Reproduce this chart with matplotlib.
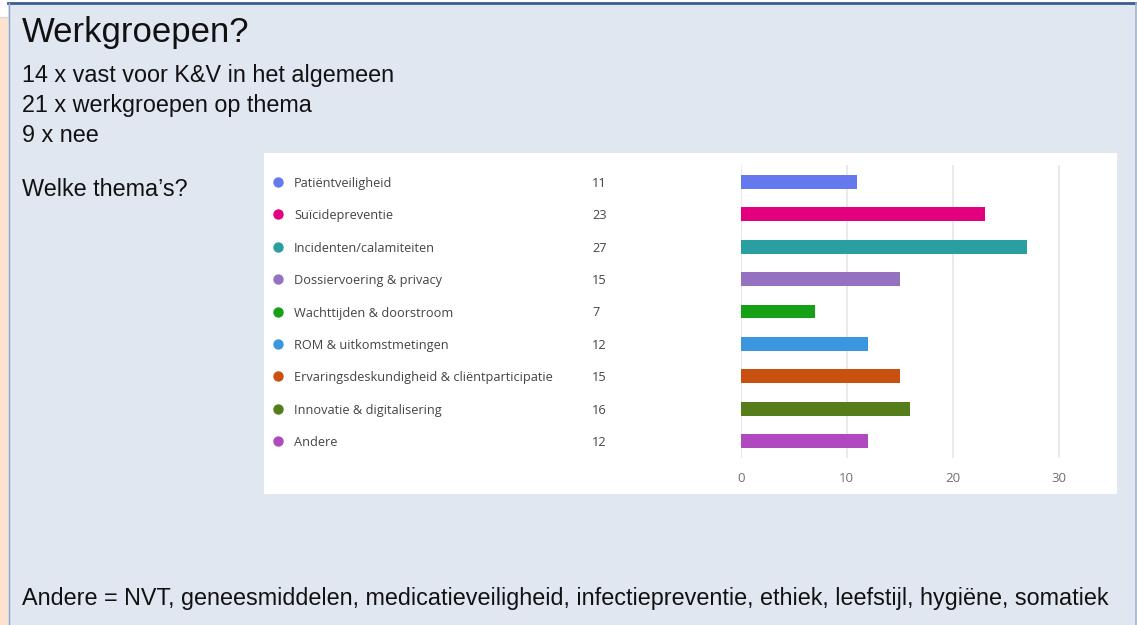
import matplotlib
matplotlib.use("Agg")
import matplotlib.pyplot as plt
from matplotlib.patches import Rectangle
from matplotlib.transforms import blended_transform_factory

W, H = 1137, 625

# data
themes = ["Patiëntveiligheid", "Suïcidepreventie", "Incidenten/calamiteiten",
          "Dossiervoering & privacy", "Wachttijden & doorstroom",
          "ROM & uitkomstmetingen", "Ervaringsdeskundigheid & cliëntparticipatie",
          "Innovatie & digitalisering", "Andere"]
counts = [11, 23, 27, 15, 7, 12, 15, 16, 12]
colors = ["#6479ee", "#e2007e", "#2a9fa0", "#9472c0", "#15a015",
          "#3b96de", "#c9500f", "#557d1a", "#b048c0"]
x_ticks = [0, 10, 20, 30]

title = "Werkgroepen?"
intro_lines = ["14 x vast voor K&V in het algemeen",
               "21 x werkgroepen op thema",
               "9 x nee"]
question = "Welke thema’s?"
footer = ("Andere = NVT, geneesmiddelen, medicatieveiligheid, infectiepreventie, "
          "ethiek, leefstijl, hygiëne, somatiek")


def fx(px):
    return px / W


def fy(py):
    return 1 - py / H


fig = plt.figure(figsize=(W / 100, H / 100), dpi=100)
fig.patch.set_facecolor("white")


def bg_rect(x, y, w, h, color):
    r = Rectangle((fx(x), fy(y + h)), w / W, h / H, transform=fig.transFigure,
                  facecolor=color, edgecolor="none", zorder=-5)
    fig.patches.append(r)


# slide background and borders
bg_rect(0, 17, 8, H - 17, "#fce3cf")
bg_rect(8, 3, 1128, H - 3, "#e1e7f1")
bg_rect(264, 153, 1117 - 264, 494 - 153, "white")
fig.lines.append(plt.Line2D([0, fx(8)], [fy(17), fy(17)], transform=fig.transFigure,
                            color="#d9d9d9", lw=1, zorder=-4))
fig.lines.append(plt.Line2D([fx(8), fx(1136)], [fy(2.5), fy(2.5)], transform=fig.transFigure,
                            color="#3c5a96", lw=2, zorder=-4))
fig.lines.append(plt.Line2D([fx(8.5), fx(8.5)], [0, fy(3)], transform=fig.transFigure,
                            color="#8ea4c8", lw=1, zorder=-4))
fig.lines.append(plt.Line2D([fx(1135.5), fx(1135.5)], [0, fy(3)], transform=fig.transFigure,
                            color="#9fb4cc", lw=1.2, zorder=-4))

# slide text
font = "Liberation Sans"
fig.text(fx(22), fy(42), title, fontsize=25, family=font, color="#111111", va="baseline")
for i, line in enumerate(intro_lines):
    fig.text(fx(22), fy(82 + 30 * i), line, fontsize=16.8, family=font, color="#111111",
             va="baseline")
fig.text(fx(22), fy(196), question, fontsize=16.8, family=font, color="#111111", va="baseline")
fig.text(fx(22), fy(605), footer, fontsize=16.8, family=font, color="#111111", va="baseline")

# bar chart
x0, px_per = 740.7, 10.6
ax = fig.add_axes([fx(x0), fy(458), 33 * px_per / W, (458 - 165) / H])
ax.set_facecolor("none")
ypos = list(range(len(themes)))
ax.barh(ypos, counts, height=0.43, color=colors, zorder=3)
ax.set_xlim(0, 33)
ax.set_ylim(len(themes) - 1 + 0.525, -0.525)
ax.set_xticks(x_ticks)
ax.set_yticks([])
ax.grid(axis="x", color="#e6e6e6", lw=1.2, zorder=0)
for s in ax.spines.values():
    s.set_visible(False)
ax.tick_params(axis="x", length=0, pad=10, labelsize=9.5, labelcolor="#707070")
for lab in ax.get_xticklabels():
    lab.set_family("Open Sans")

# legend rows
tr = blended_transform_factory(fig.transFigure, ax.transData)
for i, (name, val, c) in enumerate(zip(themes, counts, colors)):
    ax.scatter([fx(277.5)], [i], s=42, color=c, transform=tr, clip_on=False, zorder=4)
    ax.text(fx(294), i, name, transform=tr, fontsize=9.2, family="Open Sans",
            color="#444444", va="center_baseline", ha="left")
    ax.text(fx(592), i, str(val), transform=tr, fontsize=9.2, family="Open Sans",
            color="#444444", va="center_baseline", ha="left")

fig.savefig("out.png", dpi=100)
